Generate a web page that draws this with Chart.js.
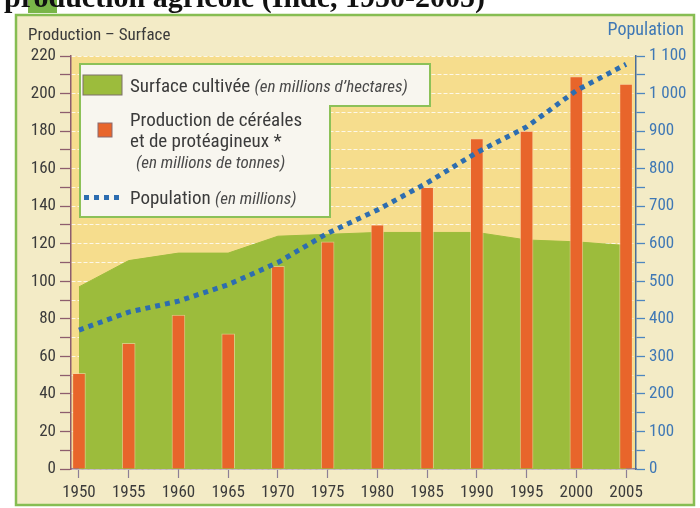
<!DOCTYPE html>
<html>
<head>
<meta charset="utf-8">
<script src="https://cdn.jsdelivr.net/npm/chart.js@4"></script>
<style>
  html, body { margin: 0; padding: 0; background: #fff; }
  #wrap { width: 700px; height: 508px; }
</style>
</head>
<body>
<div id="wrap"><canvas id="chart" width="700" height="508"></canvas></div>
<script>
const years = [1950, 1955, 1960, 1965, 1970, 1975, 1980, 1985, 1990, 1995, 2000, 2005];
const surface = [97, 111, 115, 115, 124, 125, 126, 126, 126, 122, 121, 119];
const production = [51, 67, 82, 72, 108, 121, 130, 150, 176, 180, 209, 205];
const population = [370, 418, 447, 491, 550, 628, 690, 762, 843, 911, 1008, 1078];

const leftMax = 220;
const rightMax = 1100;

const FONT = '"Liberation Sans Narrow", "Roboto Condensed", "DejaVu Sans Condensed", sans-serif';
const GREEN = '#9cbc3c';
const ORANGE = '#e8652b';
const BLUE = '#2d6db0';
const TEXT = '#3b3b3b';

function pts(values) {
  return years.map((x, i) => ({ x: x, y: values[i] }));
}

function spaced(v) {
  return String(v).replace(/\B(?=(\d{3})+(?!\d))/g, ' ');
}

const backdrop = {
  id: 'backdrop',
  beforeDraw(chart) {
    const ctx = chart.ctx;
    const a = chart.chartArea;
    ctx.save();
    ctx.fillStyle = '#ffffff';
    ctx.fillRect(0, 0, chart.width, chart.height);
    // green tab
    ctx.fillStyle = '#79b548';
    ctx.fillRect(28, 0, 29, 13);
    // frame
    ctx.fillStyle = '#f3ebc6';
    ctx.fillRect(16, 15, 678, 490);
    ctx.strokeStyle = '#86bd52';
    ctx.lineWidth = 2.5;
    ctx.strokeRect(16, 15, 678, 490);
    // plot background
    ctx.fillStyle = '#f6dd8d';
    ctx.fillRect(a.left, a.top, a.right - a.left, a.bottom - a.top);
    // cut-off heading
    ctx.fillStyle = '#111';
    ctx.font = 'bold 30px "Liberation Serif", "DejaVu Serif", serif';
    ctx.textBaseline = 'alphabetic';
    ctx.fillText('production agricole (Inde, 1950-2005)', 4, 7);
    ctx.restore();
  },
  afterDraw(chart) {
    const ctx = chart.ctx;
    ctx.save();
    // axis titles
    ctx.font = '17px ' + FONT;
    ctx.fillStyle = TEXT;
    ctx.textAlign = 'left';
    ctx.fillText('Production – Surface', 28, 40);
    ctx.font = '18px ' + FONT;
    ctx.fillStyle = '#3f78b5';
    ctx.textAlign = 'right';
    ctx.fillText('Population', 684, 35);

    // legend box (L shape)
    ctx.beginPath();
    ctx.moveTo(80, 64);
    ctx.lineTo(430, 64);
    ctx.lineTo(430, 106);
    ctx.lineTo(330, 106);
    ctx.lineTo(330, 217);
    ctx.lineTo(80, 217);
    ctx.closePath();
    ctx.fillStyle = '#f8f6ef';
    ctx.fill();
    ctx.strokeStyle = '#8cc158';
    ctx.lineWidth = 2;
    ctx.stroke();

    // surface swatch
    ctx.fillStyle = GREEN;
    ctx.fillRect(83, 75, 39, 20);
    ctx.strokeStyle = '#7c6f6a';
    ctx.lineWidth = 1;
    ctx.strokeRect(83, 75, 39, 20);
    // production swatch
    ctx.fillStyle = ORANGE;
    ctx.fillRect(98, 123, 14, 14);
    ctx.strokeStyle = '#8a6a70';
    ctx.strokeRect(98, 123, 14, 14);
    // population dots
    ctx.fillStyle = BLUE;
    [84, 94, 104, 114].forEach(x => ctx.fillRect(x, 195, 5, 5));

    ctx.textAlign = 'left';
    const line = (parts, x, y) => {
      parts.forEach(p => {
        ctx.font = p[1];
        ctx.fillStyle = p[2];
        ctx.fillText(p[0], x, y);
        x += ctx.measureText(p[0]).width;
      });
    };
    const norm = '19px ' + FONT;
    const ital = 'italic 17px ' + FONT;
    line([['Surface cultivée ', norm, TEXT], ['(en millions d’hectares)', ital, '#4a4a4a']], 130, 92);
    line([['Production de céréales', norm, TEXT]], 130, 126);
    line([['et de protéagineux *', norm, TEXT]], 130, 147);
    line([['(en millions de tonnes)', ital, '#4a4a4a']], 136, 168);
    line([['Population ', norm, TEXT], ['(en millions)', ital, '#4a4a4a']], 130, 204);
    ctx.restore();
  }
};

new Chart(document.getElementById('chart'), {
  type: 'line',
  data: {
    datasets: [
      {
        type: 'line',
        label: 'Population',
        data: pts(population),
        yAxisID: 'y1',
        borderColor: BLUE,
        borderWidth: 5,
        borderDash: [5, 5],
        borderCapStyle: 'butt',
        pointRadius: 0,
        fill: false,
        tension: 0,
        order: 0,
      },
      {
        type: 'bar',
        label: 'Production',
        data: pts(production),
        yAxisID: 'y',
        backgroundColor: ORANGE,
        borderColor: 'rgba(250, 214, 170, 0.6)',
        borderWidth: { left: 1, right: 1, top: 1, bottom: 0 },
        borderSkipped: 'bottom',
        barThickness: 13,
        order: 1,
      },
      {
        type: 'line',
        label: 'Surface',
        data: pts(surface),
        yAxisID: 'y',
        backgroundColor: GREEN,
        borderColor: GREEN,
        borderWidth: 1,
        pointRadius: 0,
        fill: 'origin',
        tension: 0,
        order: 2,
      },
    ],
  },
  options: {
    responsive: false,
    animation: false,
    events: [],
    layout: { padding: { top: 56, left: 0, right: 0, bottom: 0 } },
    plugins: {
      legend: { display: false },
      tooltip: { enabled: false },
    },
    scales: {
      x: {
        type: 'linear',
        min: 1949.2,
        max: 2006,
        offset: false,
        afterBuildTicks: s => { s.ticks = years.map(v => ({ value: v })); },
        afterFit: s => { s.height = 39; },
        grid: { offset: false, drawOnChartArea: false, tickLength: 9, tickColor: '#8c7f96', tickWidth: 1.2 },
        border: { color: '#8c7f96', width: 1.5 },
        ticks: {
          autoSkip: false,
          maxRotation: 0,
          padding: 5,
          color: TEXT,
          font: { family: FONT, size: 17 },
          callback: v => String(v),
        },
      },
      y: {
        position: 'left',
        min: 0,
        max: leftMax,
        afterFit: s => { s.width = 71; },
        ticks: {
          stepSize: 10,
          autoSkip: false,
          padding: 4,
          color: TEXT,
          font: { family: FONT, size: 17 },
          callback: v => (v % 20 === 0 ? String(v) : ''),
        },
        grid: {
          color: 'rgba(255, 255, 255, 0.8)',
          lineWidth: 1,
          tickLength: 11,
          tickColor: '#8d5d6e',
          tickWidth: 1.3,
          tickBorderDash: [],
        },
        border: { color: '#8d5d6e', width: 1.5, dash: [4, 2] },
      },
      y1: {
        position: 'right',
        min: 0,
        max: rightMax,
        afterFit: s => { s.width = 64; },
        ticks: {
          stepSize: 50,
          autoSkip: false,
          padding: 4,
          color: '#3f78b5',
          font: { family: FONT, size: 17 },
          callback: v => (v % 100 === 0 ? spaced(v) : ''),
        },
        grid: { drawOnChartArea: false, tickLength: 9, tickColor: '#4d86c0', tickWidth: 1.3 },
        border: { color: '#4a6d98', width: 1.5 },
      },
    },
  },
  plugins: [backdrop],
});
</script>
</body>
</html>
